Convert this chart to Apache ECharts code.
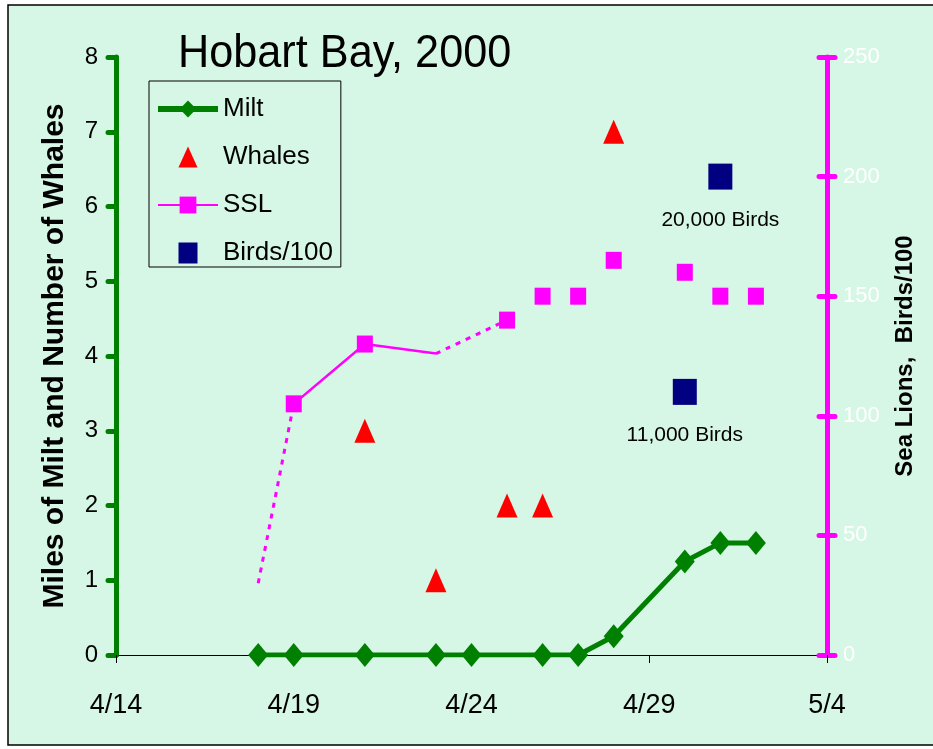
<!DOCTYPE html>
<html>
<head>
<meta charset="utf-8">
<script src="https://cdn.jsdelivr.net/npm/echarts@6/dist/echarts.min.js"></script>
<style>
html,body{margin:0;padding:0;background:#fff;}
#chart{width:933px;height:749px;}
</style>
</head>
<body>
<div id="chart"></div>
<script>
// ---- data ----
const xTickLabels = ['4/14', '4/19', '4/24', '4/29', '5/4'];
const leftTicks = [0, 1, 2, 3, 4, 5, 6, 7, 8];
const rightTicks = [0, 50, 100, 150, 200, 250];

const miltDates = ['4/18', '4/19', '4/21', '4/23', '4/24', '4/26', '4/27', '4/28', '4/30', '5/1', '5/2'];
const miltValues = [0, 0, 0, 0, 0, 0, 0, 0.25, 1.25, 1.5, 1.5];

const whaleDates = ['4/21', '4/23', '4/25', '4/26', '4/28'];
const whaleValues = [3, 1, 2, 2, 7];

const sslSolidDates = ['4/19', '4/21', '4/23'];
const sslSolidValues = [105, 130, 126];
const sslSolidMarkers = [true, true, false];

const sslDottedADates = ['4/18', '4/19'];
const sslDottedAValues = [30, 105];
const sslDottedBDates = ['4/23', '4/25'];
const sslDottedBValues = [126, 140];

const sslPointDates = ['4/25', '4/26', '4/27', '4/28', '4/30', '5/1', '5/2'];
const sslPointValues = [140, 150, 150, 165, 160, 150, 150];

const birdDates = ['4/30', '5/1'];
const birdValues = [110, 200];
const birdLabels = ['11,000 Birds', '20,000 Birds'];

// ---- helpers ----
function dayIndex(s) {
  const p = s.split('/').map(Number);
  return p[0] === 4 ? p[1] - 14 : 30 - 14 + p[1];
}
function pairs(dates, values) {
  return dates.map((d, i) => [dayIndex(d), values[i]]);
}

const FONT = '"Liberation Sans", Arial, sans-serif';
const GREEN = '#008000';
const MAGENTA = '#FF00FF';
const RED = '#FF0000';
const NAVY = '#000080';
const BG = '#D7F7E6';

const chart = echarts.init(document.getElementById('chart'), null, {renderer: 'canvas'});

const option = {
  animation: false,
  backgroundColor: '#ffffff',
  textStyle: {fontFamily: FONT},
  graphic: [
    {
      type: 'rect', z: -10, silent: true,
      shape: {x: 8, y: 5, width: 940, height: 740},
      style: {fill: BG, stroke: '#000', lineWidth: 1.5}
    },
    {
      type: 'text', z: 10, x: 178, y: 31, scaleX: 0.92,
      style: {text: 'Hobart Bay, 2000', fontSize: 47, fontFamily: FONT, fill: '#000'}
    }
  ],
  grid: {left: 116, right: 106, top: 57, bottom: 94, containLabel: false},
  legend: {
    orient: 'vertical',
    left: 149, top: 81,
    data: [
      {name: 'Milt', lineStyle: {width: 6, color: GREEN}, itemStyle: {color: GREEN}},
      {name: 'Whales', icon: 'path://M10,0 L20,22 L0,22 Z', itemStyle: {color: RED, opacity: 1}},
      {name: 'SSL'},
      {name: 'Birds/100', icon: 'path://M0,0 L19,0 L19,21 L0,21 Z', itemStyle: {color: NAVY, opacity: 1}}
    ],
    symbolKeepAspect: true,
    itemWidth: 60, itemHeight: 21, itemGap: 22,
    padding: [15, 8, 1, 6],
    borderColor: '#000', borderWidth: 1,
    backgroundColor: 'transparent',
    textStyle: {fontSize: 26, fontFamily: FONT, color: '#000', lineHeight: 26}
  },
  xAxis: {
    type: 'value', min: 0, max: 20, interval: 5,
    splitLine: {show: false},
    axisLine: {lineStyle: {color: '#000', width: 1}},
    axisTick: {show: true, length: 8, lineStyle: {color: '#000', width: 1}},
    axisLabel: {
      fontSize: 27, color: '#000', margin: 37, fontFamily: FONT,
      formatter: v => xTickLabels[Math.round(v / 5)]
    }
  },
  yAxis: [
    {
      type: 'value', position: 'left', min: leftTicks[0], max: leftTicks[leftTicks.length - 1], interval: 1,
      splitLine: {show: false},
      axisLine: {show: true, lineStyle: {color: GREEN, width: 5, cap: 'round'}},
      axisTick: {show: true, length: 8, lineStyle: {color: GREEN, width: 5, cap: 'round'}},
      axisLabel: {fontSize: 24, color: '#000', margin: 18, fontFamily: FONT},
      name: 'Miles of Milt and Number of Whales',
      nameLocation: 'middle', nameRotate: 90, nameGap: 46,
      nameTextStyle: {fontSize: 30, fontWeight: 'bold', color: '#000', fontFamily: FONT}
    },
    {
      type: 'value', position: 'right', min: rightTicks[0], max: rightTicks[rightTicks.length - 1], interval: 50,
      splitLine: {show: false},
      axisLine: {show: true, lineStyle: {color: MAGENTA, width: 5, cap: 'round'}},
      axisTick: {show: true, length: 8, lineStyle: {color: MAGENTA, width: 5, cap: 'round'}},
      axisLabel: {fontSize: 22, color: '#ffffff', margin: 16, fontFamily: FONT},
      name: 'Sea Lions,  Birds/100',
      nameLocation: 'middle', nameRotate: 90, nameGap: 66,
      nameTextStyle: {fontSize: 24, fontWeight: 'bold', color: '#000', fontFamily: FONT}
    },
    {
      type: 'value', position: 'right', min: rightTicks[0], max: rightTicks[rightTicks.length - 1], interval: 50,
      splitLine: {show: false},
      axisLine: {show: false},
      axisTick: {show: true, inside: true, length: 8, lineStyle: {color: MAGENTA, width: 5, cap: 'round'}},
      axisLabel: {show: false}
    }
  ],
  series: [
    {
      name: 'SSL', type: 'line', yAxisIndex: 1,
      data: sslSolidDates.map((d, i) => ({
        value: [dayIndex(d), sslSolidValues[i]],
        symbol: sslSolidMarkers[i] ? 'rect' : 'none'
      })),
      symbol: 'rect', symbolSize: [16, 17],
      itemStyle: {color: MAGENTA, opacity: 1},
      lineStyle: {color: MAGENTA, width: 2.5},
      z: 3
    },
    {
      name: 'SSL dotted A', type: 'line', yAxisIndex: 1,
      data: pairs(sslDottedADates, sslDottedAValues),
      symbol: 'none',
      lineStyle: {color: MAGENTA, width: 3, type: [5, 6]},
      z: 2
    },
    {
      name: 'SSL dotted B', type: 'line', yAxisIndex: 1,
      data: pairs(sslDottedBDates, sslDottedBValues),
      symbol: 'none', smooth: 0.3,
      lineStyle: {color: MAGENTA, width: 3, type: [5, 6]},
      z: 2
    },
    {
      name: 'SSL', type: 'scatter', yAxisIndex: 1,
      data: pairs(sslPointDates, sslPointValues),
      symbol: 'rect', symbolSize: [16, 17],
      itemStyle: {color: MAGENTA, opacity: 1},
      z: 3
    },
    {
      name: 'Whales', type: 'scatter', yAxisIndex: 0,
      data: pairs(whaleDates, whaleValues),
      symbol: 'triangle', symbolSize: [21, 24],
      itemStyle: {color: RED, opacity: 1},
      z: 4
    },
    {
      name: 'Birds/100', type: 'scatter', yAxisIndex: 1,
      data: birdDates.map((d, i) => ({
        value: [dayIndex(d), birdValues[i]],
        label: {formatter: birdLabels[i]}
      })),
      symbol: 'rect', symbolSize: [24, 26],
      itemStyle: {color: NAVY, opacity: 1},
      label: {
        show: true, position: 'bottom', distance: 20,
        fontSize: 21, color: '#000', fontFamily: FONT
      },
      z: 4
    },
    {
      name: 'Milt', type: 'line', yAxisIndex: 0,
      data: pairs(miltDates, miltValues),
      symbol: 'diamond', symbolSize: [20, 24],
      itemStyle: {color: GREEN, opacity: 1},
      lineStyle: {color: GREEN, width: 5},
      z: 5
    }
  ]
};
chart.setOption(option);
</script>
</body>
</html>
